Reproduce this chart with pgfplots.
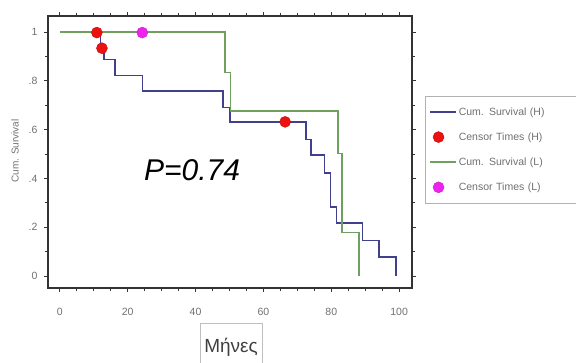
\documentclass[border=0pt]{standalone}
\usepackage{pgfplots}
\pgfplotsset{compat=1.18}
\usepackage{fontspec}
\setmainfont{Liberation Sans}
\definecolor{hblue}{HTML}{40408F}
\definecolor{lgreen}{HTML}{6FA060}
\definecolor{cred}{HTML}{EE1111}
\definecolor{cmag}{HTML}{EE22EE}
\definecolor{tickgray}{HTML}{707070}
\pgfplotsset{longline/.style={legend image code/.code={\draw[##1] (0pt,0pt) -- (26pt,0pt);}}}
\begin{document}
\begin{tikzpicture}
\useasboundingbox (-48pt,-75pt) rectangle (528pt,288pt);
\begin{axis}[
  scale only axis, width=364pt, height=272pt,
  xmin=-3.5, xmax=103.8, ymin=-0.049, ymax=1.066,
  xtick={0,20,...,100}, minor x tick num=3,
  ytick={0,0.2,0.4,0.6,0.8,1}, yticklabels={0,.2,.4,.6,.8,1},
  minor y tick num=1,
  tick align=outside,
  major tick length=4pt, minor tick length=3pt,
  axis line style={line width=1.2pt, black!80},
  every tick/.style={black!80, line width=0.8pt},
  tick label style={font=\fontsize{10.5}{12}\selectfont, text=tickgray},
  xticklabel style={yshift=-13pt},
  yticklabel style={xshift=-3pt},
  /pgf/number format/assume math mode=true,
  legend cell align=left,
  legend style={at={(rel axis cs:1.0357,0.705)}, anchor=north west,
    draw=black!30, font=\fontsize{10.5}{12}\selectfont\color{tickgray},
    row sep=12pt, inner xsep=4pt, inner ysep=9pt, text width=112pt},
  clip=false,
]
\addplot[hblue, line width=1.6pt, const plot, longline] coordinates {
 (0,1) (12,0.933) (13,0.888) (16.2,0.822) (24.3,0.758) (48,0.691) (50.1,0.632)
 (72.5,0.560) (74,0.496) (78,0.423) (79.8,0.284) (81.6,0.218) (89.2,0.145)
 (94.1,0.077) (99,0)};
\addlegendentry{Cum. Survival (H)}
\addplot[only marks, mark=*, mark size=5.5pt, cred, mark options={draw=cred!80!black}] coordinates {
 (10.9,0.998) (12.4,0.934) (66.4,0.632)};
\addlegendentry{Censor Times (H)}
\addplot[lgreen, line width=1.6pt, const plot, longline] coordinates {
 (0,1) (48.7,0.835) (50.3,0.676) (81.9,0.503) (83.1,0.178) (88.2,0)};
\addlegendentry{Cum. Survival (L)}
\addplot[only marks, mark=*, mark size=5.5pt, cmag, mark options={draw=cmag!85!black}] coordinates {
 (24.3,0.998)};
\addlegendentry{Censor Times (L)}
\node[font=\fontsize{30}{34}\selectfont\itshape] at (rel axis cs:0.396,0.434) {P=0.74};
\node[rotate=90, font=\fontsize{10}{12}\selectfont, text=tickgray] at (rel axis cs:-0.0907,0.504) {Cum. Survival};
\node[draw=black!25, anchor=north, minimum width=62pt, minimum height=45pt, text depth=0pt,
  font=\fontsize{19}{22}\selectfont, text=black!75] at (rel axis cs:0.503,-0.129) {Μήνες};
\end{axis}
\end{tikzpicture}
\end{document}
